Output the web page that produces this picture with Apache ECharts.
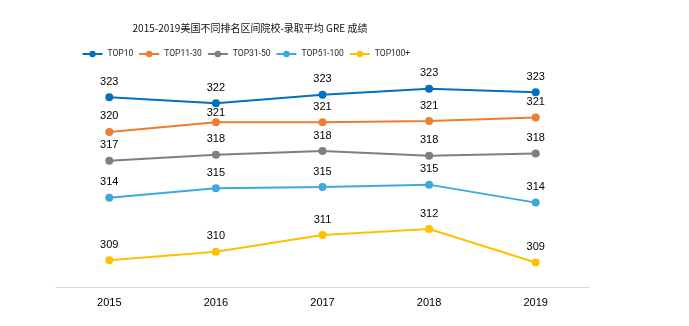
<!DOCTYPE html>
<html>
<head>
<meta charset="utf-8">
<script src="https://cdn.jsdelivr.net/npm/echarts@6/dist/echarts.min.js"></script>
<style>
  html, body { margin: 0; padding: 0; background: #ffffff; }
  #chart { width: 689px; height: 326px; }
</style>
</head>
<body>
<div id="chart"></div>
<script>
// Average admitted GRE scores by US school ranking band, 2015-2019
// (values kept to one decimal; point labels show them rounded to whole scores)
const years = ['2015', '2016', '2017', '2018', '2019'];
const seriesNames = ['TOP10', 'TOP11-30', 'TOP31-50', 'TOP51-100', 'TOP100+'];
const top10 = [322.7, 322.2, 322.9, 323.4, 323.1];
const top11to30 = [319.8, 320.6, 320.6, 320.7, 321.0];
const top31to50 = [317.4, 317.9, 318.2, 317.8, 318.0];
const top51to100 = [314.3, 315.1, 315.2, 315.4, 313.9];
const top100plus = [309.1, 309.8, 311.2, 311.7, 308.9];
const seriesValues = [top10, top11to30, top31to50, top51to100, top100plus];
const colors = ['#0070C0', '#ED7D31', '#7F7F7F', '#3CA8E0', '#FFC000'];

const latinFont = "'Liberation Sans', Arial, sans-serif";
const legendFont = "Roboto, 'Liberation Sans', sans-serif";

// Labels that would sit on top of a neighbouring line's marker are pulled closer to their own point
const labelNudges = { 'TOP11-30': { 1: [0, 6] } };

function buildData(name, values) {
  const nudges = labelNudges[name] || {};
  return values.map((v, j) => (
    nudges[j] ? { value: v, label: { offset: nudges[j] } } : v
  ));
}

const chart = echarts.init(document.getElementById('chart'), null, { renderer: 'canvas' });

chart.setOption({
  backgroundColor: '#ffffff',
  animation: false,
  title: {
    text: '2015-2019美国不同排名区间院校-录取平均 GRE 成绩',
    left: 245,
    top: 18.5,
    textAlign: 'center',
    textStyle: {
      fontFamily: "'Noto Sans CJK SC', sans-serif",
      fontSize: 10,
      fontWeight: 'normal',
      color: '#111111'
    }
  },
  legend: {
    data: seriesNames,
    left: 76.5,
    top: 44.5,
    itemWidth: 20,
    itemHeight: 8,
    itemGap: 5,
    textStyle: {
      fontFamily: legendFont,
      fontSize: 8.5,
      color: '#262626'
    }
  },
  grid: {
    left: 56,
    right: 100,
    top: 60,
    bottom: 38.3,
    containLabel: false
  },
  xAxis: {
    type: 'category',
    data: years,
    boundaryGap: true,
    axisLine: { show: true, lineStyle: { color: '#D9D9D9', width: 1 } },
    axisTick: { show: false },
    axisLabel: {
      margin: 10,
      fontFamily: latinFont,
      fontSize: 11,
      color: '#000000'
    },
    splitLine: { show: false }
  },
  yAxis: {
    type: 'value',
    min: 306.8,
    max: 325.8,
    show: false,
    splitLine: { show: false }
  },
  series: seriesNames.map((name, i) => ({
    name: name,
    type: 'line',
    data: buildData(name, seriesValues[i]),
    symbol: 'circle',
    symbolSize: 8,
    color: colors[i],
    lineStyle: { width: 2, color: colors[i] },
    itemStyle: { color: colors[i] },
    label: {
      show: true,
      position: 'top',
      distance: 6,
      fontFamily: latinFont,
      fontSize: 11,
      color: '#000000',
      formatter: (p) => String(Math.round(p.value))
    }
  }))
});
</script>
</body>
</html>
